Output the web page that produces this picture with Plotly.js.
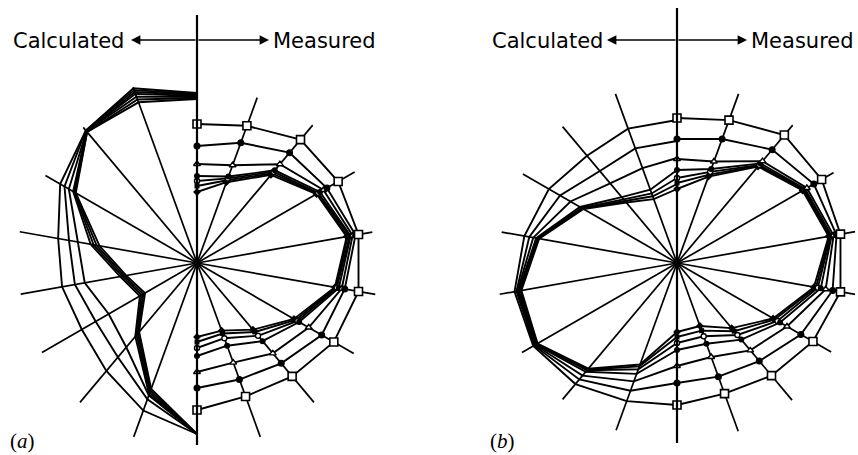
<!DOCTYPE html>
<html><head><meta charset="utf-8">
<script src="https://cdn.plot.ly/plotly-3.0.1.min.js"></script>
<style>html,body{margin:0;padding:0;background:#fff}#chart{width:858px;height:455px}</style>
</head><body><div id="chart"></div>
<script>
// ---- angles (degrees, clockwise from the upward vertical) ----
const measuredAngles   = [0, 20, 40, 60, 80, 100, 120, 140, 160, 180];
const calculatedAngles = [0, -20, -40, -60, -80, -100, -120, -140, -160, -180];
const spokeAngles      = [20, 40, 60, 80, 100, 120, 140, 160, -20, -40, -60, -80, -100, -120, -140, -160];
const spokeLengthsA    = [176, 180, 182, 178, 181, 181, 182, 185, 187, 177, 175, 180, 179, 179, 182, 185];
const spokeLengthsB    = [180, 180, 181, 181, 181, 178, 179, 179, 180, 178, 178, 178, 180, 179, 178, 178];

// ---- panel (a): measured (right half), outermost to innermost ----
const aMeas1 = [139, 146, 161, 163, 164, 164, 158, 148, 142, 147];
const aMeas2 = [117, 128, 144, 150, 161, 150, 144, 131, 124, 125];
const aMeas3 = [99, 104, 129, 146, 158, 147, 129, 118, 106, 109];
const aMeas4 = [87, 92, 121, 142, 156, 144, 118, 102, 88, 93];
const aMeas5 = [82, 90, 119, 140, 155, 142, 116, 95, 80, 85];
const aMeas6 = [77, 88, 117, 139, 153, 141, 114, 90, 75, 79];
const aMeas7 = [71, 86, 115, 138, 152, 140, 112, 87, 72, 74];
// ---- panel (a): calculated (left half) ----
const aCalc1 = [170, 186, 173, 158, 141, 137, 133, 141, 157, 171];
const aCalc2 = [169, 184, 173, 153, 130, 124, 117, 123, 145, 171];
const aCalc3 = [168, 182, 172, 148, 121, 114, 102, 110, 141, 171];
const aCalc4 = [167, 180, 172, 143, 108, 78, 66, 96, 140, 171];
const aCalc5 = [166, 177, 172, 142, 105, 76, 64, 94, 138, 171];
const aCalc6 = [165, 174, 171, 141, 102, 74, 62, 92, 136, 171];
const aCalc7 = [164, 171, 171, 140, 99, 72, 60, 90, 134, 171];

// ---- panel (b): measured ----
const bMeas1 = [145, 152, 167, 167, 166, 166, 157, 147, 139, 142];
const bMeas2 = [124, 132, 148, 158, 162, 158, 143, 128, 121, 120];
const bMeas3 = [104, 108, 133, 150, 159, 151, 127, 114, 100, 103];
const bMeas4 = [93, 100, 130, 148, 157, 146, 119, 100, 86, 87];
const bMeas5 = [85, 97, 128, 147, 156, 143, 116, 94, 78, 80];
const bMeas6 = [80, 94, 127, 146, 155, 141, 113, 89, 72, 74];
const bMeas7 = [74, 92, 126, 145, 154, 139, 111, 85, 67, 69];
// ---- panel (b): calculated ----
const bCalc1 = [143, 143, 140, 148, 155, 165, 166, 158, 147, 142];
const bCalc2 = [122, 122, 120, 135, 150, 163, 165, 152, 136, 120];
const bCalc3 = [105, 101, 104, 123, 146, 162, 164, 147, 126, 103];
const bCalc4 = [93, 78, 86, 112, 143, 161, 163, 142, 118, 87];
const bCalc5 = [85, 74, 83, 110, 142, 160, 162, 140, 113, 80];
const bCalc6 = [79, 71, 81, 109, 141, 159, 162, 139, 110, 74];
const bCalc7 = [74, 68, 79, 108, 140, 158, 161, 138, 108, 69];

const headerLeft = 'Calculated';
const headerRight = 'Measured';
const panelLabels = ['(<i>a</i>)', '(<i>b</i>)'];

// ---- layout geometry (pixels) ----
const W = 858, H = 455;
const panels = [
  {id: 'polar',  cx: 197, cy: 263, R: 192, axisTop: 248, axisBot: 182,
   meas: [aMeas1,aMeas2,aMeas3,aMeas4,aMeas5,aMeas6,aMeas7],
   calc: [aCalc1,aCalc2,aCalc3,aCalc4,aCalc5,aCalc6,aCalc7], spokes: spokeLengthsA,
   hdr: {calcRight: 126, arrowL: 131, arrowR: 269, measLeft: 271}, lab: 8},
  {id: 'polar2', cx: 677, cy: 263, R: 181, axisTop: 255, axisBot: 180,
   meas: [bMeas1,bMeas2,bMeas3,bMeas4,bMeas5,bMeas6,bMeas7],
   calc: [bCalc1,bCalc2,bCalc3,bCalc4,bCalc5,bCalc6,bCalc7], spokes: spokeLengthsB,
   hdr: {calcRight: 605, arrowL: 607, arrowR: 747, measLeft: 749}, lab: 488}
];

const markerStyles = [
  {symbol: 'square', size: 8, color: '#fff', line: {color: '#000', width: 1.6}},
  {symbol: 'circle', size: 7, color: '#000'},
  {symbol: 'triangle-up', size: 6, color: '#fff', line: {color: '#000', width: 1.4}},
  {symbol: 'circle', size: 6, color: '#000'},
  {symbol: 'circle', size: 5, color: '#fff', line: {color: '#000', width: 1.4}},
  {symbol: 'square', size: 5, color: '#000'},
  {symbol: 'diamond', size: 6, color: '#000'}
];

const traces = [];
const layout = {
  width: W, height: H, margin: {l: 0, r: 0, t: 0, b: 0},
  paper_bgcolor: '#fff', showlegend: false,
  shapes: [], annotations: []
};
const px = x => x / W, py = y => 1 - y / H;
const fontSans = {family: 'DejaVu Sans, sans-serif', size: 21, color: '#000'};

panels.forEach((p, pi) => {
  layout[p.id] = {
    domain: {x: [px(p.cx - p.R), px(p.cx + p.R)], y: [py(p.cy + p.R), py(p.cy - p.R)]},
    bgcolor: 'rgba(0,0,0,0)',
    radialaxis: {visible: false, range: [0, p.R]},
    angularaxis: {visible: false, rotation: 90, direction: 'clockwise'}
  };
  // spokes
  const sr = [], st = [];
  spokeAngles.forEach((a, i) => { sr.push(0, p.spokes[i], null); st.push(a, a, null); });
  traces.push({type: 'scatterpolar', subplot: p.id, r: sr, theta: st, mode: 'lines',
    line: {color: '#000', width: 1.7}, hoverinfo: 'skip'});
  // calculated curves (left)
  p.calc.forEach(c => traces.push({type: 'scatterpolar', subplot: p.id, r: c, theta: calculatedAngles,
    mode: 'lines', line: {color: '#000', width: 1.9}}));
  // measured curves (right), innermost first
  for (let k = p.meas.length - 1; k >= 0; k--) {
    traces.push({type: 'scatterpolar', subplot: p.id, r: p.meas[k], theta: measuredAngles,
      mode: 'lines+markers', line: {color: '#000', width: 1.9}, marker: markerStyles[k], cliponaxis: false});
  }
  // vertical axis line
  layout.shapes.push({type: 'line', xref: 'paper', yref: 'paper',
    x0: px(p.cx), x1: px(p.cx), y0: py(p.cy - p.axisTop), y1: py(p.cy + p.axisBot),
    line: {color: '#000', width: 2.2}});
  // header
  const hy = py(41);
  layout.annotations.push({xref: 'paper', yref: 'paper', x: px(p.hdr.calcRight), y: hy,
    xanchor: 'right', yanchor: 'middle', text: headerLeft, showarrow: false, font: fontSans});
  layout.annotations.push({xref: 'paper', yref: 'paper', x: px(p.hdr.measLeft), y: hy,
    xanchor: 'left', yanchor: 'middle', text: headerRight, showarrow: false, font: fontSans});
  layout.annotations.push({xref: 'paper', yref: 'paper', x: px(p.hdr.arrowL), y: py(40),
    text: '', showarrow: true, ax: p.cx - p.hdr.arrowL, ay: 0, arrowhead: 2, arrowsize: 1.1,
    arrowwidth: 1.7, arrowcolor: '#000', standoff: 0, startstandoff: 0});
  layout.annotations.push({xref: 'paper', yref: 'paper', x: px(p.hdr.arrowR), y: py(40),
    text: '', showarrow: true, ax: p.cx - p.hdr.arrowR, ay: 0, arrowhead: 2, arrowsize: 1.1,
    arrowwidth: 1.7, arrowcolor: '#000', standoff: 0, startstandoff: 0});
  // panel label
  layout.annotations.push({xref: 'paper', yref: 'paper', x: px(p.lab), y: py(441),
    xanchor: 'left', yanchor: 'middle', text: panelLabels[pi], showarrow: false,
    font: {family: 'Liberation Serif, serif', size: 21, color: '#000'}});
});

Plotly.newPlot('chart', traces, layout, {staticPlot: true});
</script></body></html>
